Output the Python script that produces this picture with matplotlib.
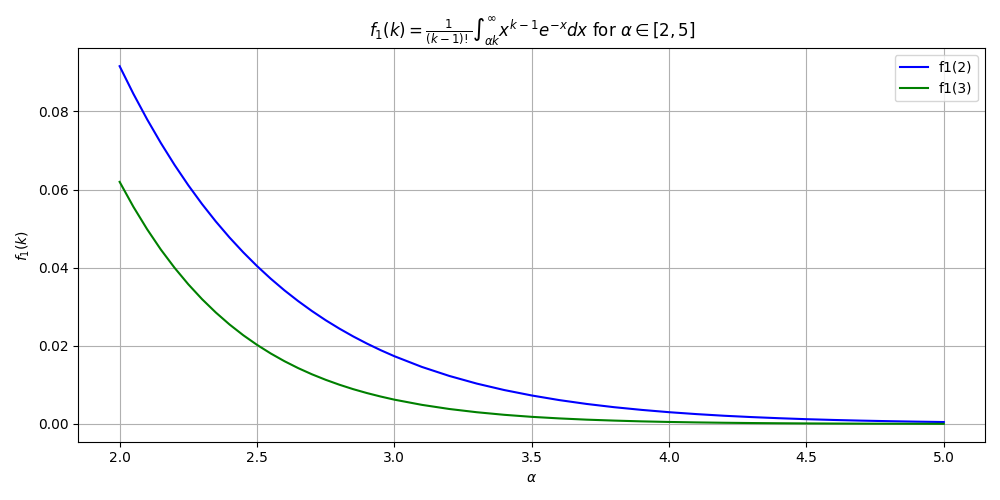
import matplotlib
matplotlib.use("Agg")
import matplotlib.pyplot as plt

# alpha sample points (finer where the curves bend most)
alpha = [2.0, 2.05, 2.1, 2.15, 2.2, 2.25, 2.3, 2.35, 2.4, 2.45,
         2.5, 2.55, 2.6, 2.65, 2.7, 2.75, 2.8, 2.85, 2.9, 2.95,
         3.0, 3.1, 3.2, 3.3, 3.4, 3.5, 3.6, 3.7, 3.8, 3.9,
         4.0, 4.1, 4.2, 4.3, 4.4, 4.5, 4.6, 4.7, 4.8, 4.9, 5.0]

# f1(2) curve values
f1_k2 = [0.09158, 0.08452, 0.07798, 0.07192, 0.06630, 0.06110, 0.05629, 0.05184,
         0.04773, 0.04394, 0.04043, 0.03719, 0.03420, 0.03145, 0.02891, 0.02656,
         0.02441, 0.02242, 0.02059, 0.01890,
         0.01735, 0.01461, 0.01230, 0.01034, 0.00869, 0.00730,
         0.00612, 0.00513, 0.00430, 0.00361, 0.00302, 0.00253, 0.00211, 0.00177,
         0.00148, 0.00123, 0.00103, 0.00086, 0.00072, 0.00060, 0.00050]

# f1(3) curve values
f1_k3 = [0.06197, 0.05560, 0.04985, 0.04464, 0.03997, 0.03575, 0.03195, 0.02854,
         0.02547, 0.02272, 0.02026, 0.01805, 0.01607, 0.01430, 0.01272, 0.01131,
         0.01005, 0.00892, 0.00792, 0.00703,
         0.00623, 0.00490, 0.00384, 0.00301, 0.00235, 0.00183,
         0.00143, 0.00111, 0.00087, 0.00067, 0.00052, 0.000405, 0.000314, 0.000243,
         0.000188, 0.000145, 0.000112, 0.0000862, 0.0000664, 0.0000511, 0.0000393]

plt.figure(figsize=(10, 5), dpi=100)
plt.plot(alpha, f1_k2, label='f1(2)', color='blue')
plt.plot(alpha, f1_k3, label='f1(3)', color='green')
plt.xlabel(r'$\alpha$')
plt.ylabel(r'$f_1(k)$')
plt.title(r'$f_1(k) = \frac{1}{(k-1)!}\int_{\alpha k}^{\infty} x^{k-1}e^{-x}dx$ for $\alpha \in [2, 5]$')
plt.legend()
plt.grid(True)
plt.tight_layout()
plt.savefig('out.png')
plt.close()
